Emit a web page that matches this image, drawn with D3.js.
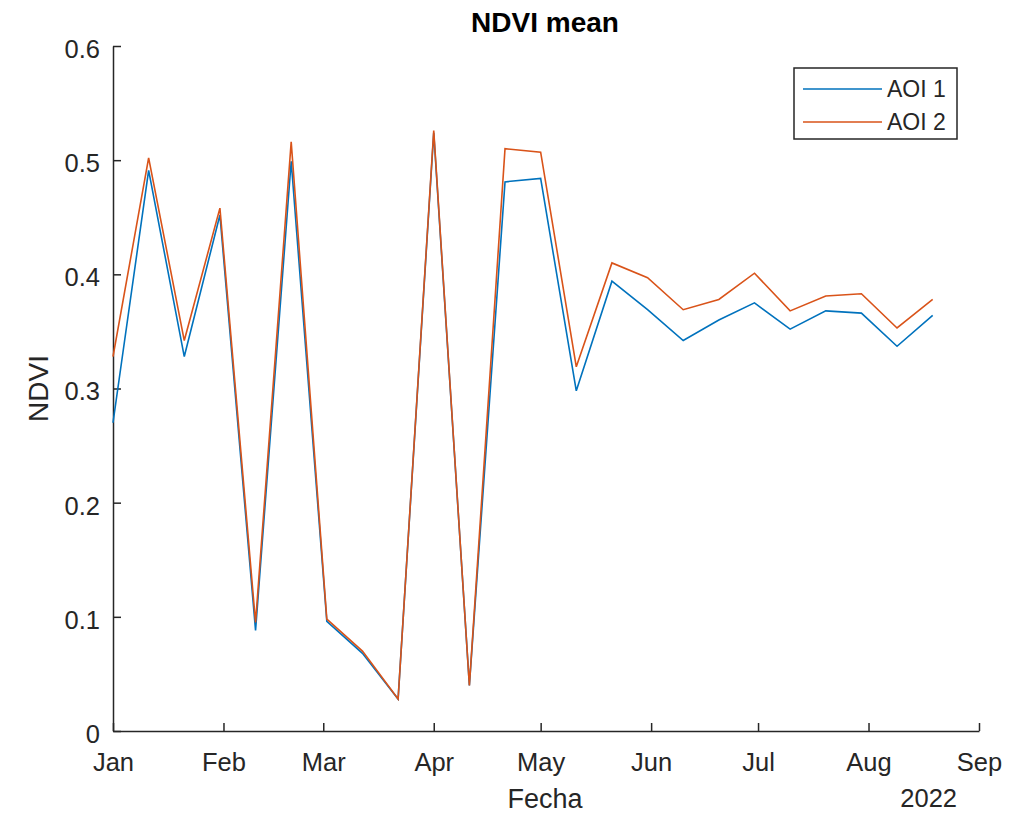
<!DOCTYPE html>
<meta charset="utf-8">
<style>
body { margin: 0; background: #fff; }
svg { display: block; font-family: "Liberation Sans", Arial, Helvetica, sans-serif; }
</style>
<svg></svg>
<script src="https://cdn.jsdelivr.net/npm/d3@7/dist/d3.min.js"></script>
<script>

// fechas de las imagenes (cada 10 dias)
var fechas = ["2022-01-01","2022-01-11","2022-01-21","2022-01-31","2022-02-10","2022-02-20",
              "2022-03-02","2022-03-12","2022-03-22","2022-04-01","2022-04-11","2022-04-21",
              "2022-05-01","2022-05-11","2022-05-21","2022-05-31","2022-06-10","2022-06-20",
              "2022-06-30","2022-07-10","2022-07-20","2022-07-30","2022-08-09","2022-08-19"]

var aoi1 = [0.270, 0.491, 0.328, 0.452, 0.088, 0.499,
            0.096, 0.068, 0.028, 0.524, 0.040, 0.481,
            0.484, 0.298, 0.394, 0.369, 0.342, 0.360,
            0.375, 0.352, 0.368, 0.366, 0.337, 0.364]

var aoi2 = [0.328, 0.502, 0.342, 0.458, 0.095, 0.516,
            0.098, 0.070, 0.028, 0.526, 0.040, 0.510,
            0.507, 0.319, 0.410, 0.397, 0.369, 0.378,
            0.401, 0.368, 0.381, 0.383, 0.353, 0.378]

var series = ["AOI 1", "AOI 2"]
var colores = ["#0072BD", "#D95319"]
var yTicks = [0, 0.1, 0.2, 0.3, 0.4, 0.5, 0.6]

var W = 1017, H = 814,
    mLeft = 113, mRight = 979, mTop = 46, mBottom = 731,
    axisColor = "#262626"

var svg = d3.select("svg").attr("width", W).attr("height", H)

var parse = d3.utcParse("%Y-%m-%d")
var dates = fechas.map(parse)

var x = d3.scaleUtc()
  .domain([parse("2022-01-01"), parse("2022-09-01")])
  .range([mLeft, mRight])

var y = d3.scaleLinear()
  .domain([0, 0.6])
  .range([mBottom, mTop])

// ejes
var xAxis = svg.append("g")
  .attr("transform", "translate(0," + mBottom + ")")
  .call(d3.axisBottom(x).ticks(d3.utcMonth.every(1)).tickFormat(d3.utcFormat("%b"))
    .tickSizeInner(-8).tickSizeOuter(0))
xAxis.select(".domain").attr("stroke", axisColor).attr("stroke-width", 1.5)
xAxis.selectAll(".tick line").attr("stroke", axisColor).attr("stroke-width", 1.5)
xAxis.selectAll(".tick text").attr("fill", axisColor).attr("font-size", 25.5).attr("font-family", null)
  .attr("y", 22).attr("dy", "0.71em")

var yAxis = svg.append("g")
  .attr("transform", "translate(" + mLeft + ",0)")
  .call(d3.axisLeft(y).tickValues(yTicks).tickFormat(function(d){ return d === 0 ? "0" : d3.format(".1f")(d) })
    .tickSizeInner(-8).tickSizeOuter(0))
yAxis.select(".domain").attr("stroke", axisColor).attr("stroke-width", 1.5)
yAxis.selectAll(".tick line").attr("stroke", axisColor).attr("stroke-width", 1.5)
yAxis.selectAll(".tick text").attr("fill", axisColor).attr("font-size", 25.5).attr("font-family", null)
  .attr("x", -13).attr("dy", "0.45em")

// lineas
var line = d3.line()
  .x(function(d, i){ return x(dates[i]) })
  .y(function(d){ return y(d) })

var datos = [aoi1, aoi2]
svg.append("g").selectAll("path")
  .data(datos)
  .enter().append("path")
    .attr("fill", "none")
    .attr("stroke", function(d, i){ return colores[i] })
    .attr("stroke-width", 1.6)
    .attr("d", line)

// textos
svg.append("text")
  .attr("x", (mLeft + 977) / 2).attr("y", 32)
  .attr("text-anchor", "middle")
  .attr("font-size", 28).attr("font-weight", "bold").attr("fill", "#000")
  .text("NDVI mean")

svg.append("text")
  .attr("x", (mLeft + 977) / 2).attr("y", 808)
  .attr("text-anchor", "middle")
  .attr("font-size", 27).attr("fill", axisColor)
  .text("Fecha")

svg.append("text")
  .attr("x", 957).attr("y", 807)
  .attr("text-anchor", "end")
  .attr("font-size", 25.5).attr("fill", axisColor)
  .text("2022")

svg.append("text")
  .attr("transform", "translate(48," + (mTop + mBottom) / 2 + ") rotate(-90)")
  .attr("text-anchor", "middle")
  .attr("font-size", 28).attr("fill", axisColor)
  .text("NDVI")

// leyenda
var legend = svg.append("g")
legend.append("rect")
  .attr("x", 794).attr("y", 68).attr("width", 163).attr("height", 71)
  .attr("fill", "#fff").attr("stroke", axisColor).attr("stroke-width", 1.5)

var item = legend.selectAll("g.item")
  .data(series)
  .enter().append("g")
    .attr("class", "item")
    .attr("transform", function(d, i){ return "translate(0," + (89 + i * 33) + ")" })
item.append("line")
  .attr("x1", 803).attr("x2", 882)
  .attr("stroke", function(d, i){ return colores[i] })
  .attr("stroke-width", 1.6)
item.append("text")
  .attr("x", 887).attr("dy", "0.36em")
  .attr("font-size", 23).attr("fill", axisColor)
  .text(function(d){ return d })

</script>
